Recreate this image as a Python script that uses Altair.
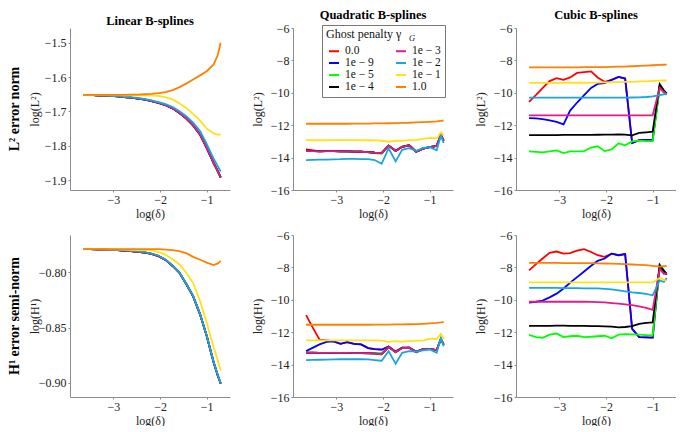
import altair as alt
import pandas as pd

# ---------------- data ----------------
x_log_delta = [-3.65, -3.50, -3.36, -3.21, -3.06, -2.91, -2.77, -2.62, -2.47, -2.32, -2.18,
               -2.03, -1.88, -1.73, -1.59, -1.44, -1.29, -1.14, -1.00, -0.85, -0.76, -0.70]

penalties = ["0.0", "1e − 9", "1e − 5", "1e − 4", "1e − 3", "1e − 2", "1e − 1", "1.0"]
colors = ["#ff0000", "#0000ff", "#00ff00", "#000000", "#e6198c", "#1aa6dc", "#ffe11a", "#ff8000"]

# Linear B-splines, L2
lin_l2_magenta = [-1.652, -1.652, -1.653, -1.654, -1.655, -1.656, -1.658, -1.660, -1.663, -1.666, -1.670,
                  -1.675, -1.682, -1.691, -1.704, -1.720, -1.741, -1.768, -1.806, -1.851, -1.875, -1.892]
lin_l2_cyan = [-1.652, -1.652, -1.653, -1.654, -1.655, -1.656, -1.657, -1.659, -1.661, -1.664, -1.668,
               -1.673, -1.679, -1.687, -1.699, -1.714, -1.733, -1.758, -1.795, -1.838, -1.860, -1.875]
lin_l2_yellow = [-1.652, -1.652, -1.652, -1.652, -1.652, -1.652, -1.653, -1.653, -1.653, -1.653, -1.654,
                 -1.655, -1.659, -1.665, -1.676, -1.690, -1.707, -1.727, -1.750, -1.764, -1.768, -1.767]
lin_l2_orange = [-1.652, -1.652, -1.652, -1.652, -1.652, -1.652, -1.652, -1.651, -1.651, -1.650, -1.649,
                 -1.647, -1.644, -1.638, -1.630, -1.619, -1.607, -1.595, -1.583, -1.563, -1.535, -1.500]

# Linear B-splines, H1
lin_h1_magenta = [-0.7788, -0.7789, -0.7790, -0.7792, -0.7795, -0.7798, -0.7802, -0.7806, -0.7812, -0.7820, -0.7832,
                  -0.7852, -0.7886, -0.7941, -0.7998, -0.8102, -0.8217, -0.8382, -0.8575, -0.8817, -0.8937, -0.9008]
lin_h1_cyan = [-0.7788, -0.7789, -0.7790, -0.7791, -0.7793, -0.7795, -0.7798, -0.7802, -0.7808, -0.7816, -0.7828,
               -0.7848, -0.7882, -0.7938, -0.7995, -0.8100, -0.8215, -0.8380, -0.8573, -0.8815, -0.8935, -0.9006]
lin_h1_yellow = [-0.7788, -0.7789, -0.7789, -0.7790, -0.7790, -0.7791, -0.7792, -0.7794, -0.7796, -0.7798, -0.7800,
                 -0.7815, -0.7840, -0.7880, -0.7925, -0.8000, -0.8096, -0.8260, -0.8454, -0.8680, -0.8800, -0.8890]
lin_h1_orange = [-0.7788, -0.7788, -0.7788, -0.7788, -0.7788, -0.7788, -0.7788, -0.7788, -0.7788, -0.7788, -0.7788,
                 -0.7789, -0.7792, -0.7797, -0.7807, -0.7825, -0.7858, -0.7885, -0.7910, -0.7932, -0.7918, -0.7895]

# Quadratic B-splines, L2
quad_l2_red = [-13.50, -13.55, -13.60, -13.60, -13.60, -13.62, -13.62, -13.63, -13.64, -13.66, -13.70,
               -13.72, -13.26, -13.58, -13.33, -13.24, -13.64, -13.45, -13.36, -13.28, -12.60, -12.95]
quad_l2_green = [-13.58, -13.60, -13.62, -13.60, -13.60, -13.62, -13.62, -13.63, -13.65, -13.68, -13.73,
                 -13.76, -13.28, -13.58, -13.33, -13.24, -13.64, -13.45, -13.36, -13.28, -12.60, -12.95]
quad_l2_black = [-13.55, -13.58, -13.61, -13.60, -13.60, -13.62, -13.62, -13.63, -13.64, -13.66, -13.70,
                 -13.72, -13.26, -13.58, -13.33, -13.24, -13.64, -13.45, -13.36, -13.28, -12.60, -12.95]
quad_l2_magenta = [-13.58, -13.60, -13.62, -13.60, -13.60, -13.62, -13.62, -13.63, -13.64, -13.66, -13.70,
                   -13.72, -13.26, -13.58, -13.33, -13.24, -13.64, -13.45, -13.36, -13.28, -12.60, -12.95]
quad_l2_cyan = [-14.15, -14.14, -14.13, -14.12, -14.11, -14.10, -14.08, -14.08, -14.09, -14.10, -14.15,
                -14.38, -13.42, -14.23, -13.52, -13.42, -13.58, -13.40, -13.36, -13.55, -12.65, -13.10]
quad_l2_yellow = [-12.92, -12.93, -12.93, -12.93, -12.92, -12.92, -12.92, -12.92, -12.93, -12.93, -12.94,
                  -12.96, -13.02, -12.95, -12.97, -12.92, -12.90, -12.85, -12.78, -12.80, -12.45, -12.62]
quad_l2_orange = [-11.91, -11.91, -11.91, -11.91, -11.91, -11.91, -11.91, -11.90, -11.90, -11.90, -11.89,
                  -11.89, -11.88, -11.87, -11.86, -11.85, -11.83, -11.81, -11.79, -11.76, -11.73, -11.71]

# Quadratic B-splines, H1
quad_h1_red = [-10.95, -11.75, -12.46, -12.50, -12.57, -12.72, -12.62, -12.72, -12.75, -12.98, -13.05,
               -13.08, -12.88, -13.20, -12.96, -12.95, -13.20, -13.05, -13.03, -13.10, -12.42, -12.77]
quad_h1_blue = [-13.17, -12.95, -12.75, -12.60, -12.57, -12.72, -12.62, -12.72, -12.75, -12.98, -13.05,
                -13.08, -12.88, -13.20, -12.96, -12.95, -13.20, -13.05, -13.03, -13.10, -12.42, -12.77]
quad_h1_green = [-13.27, -13.27, -13.28, -13.28, -13.28, -13.28, -13.28, -13.29, -13.29, -13.29, -13.28,
                 -13.30, -12.92, -13.23, -12.98, -12.96, -13.23, -13.05, -13.05, -13.10, -12.42, -12.77]
quad_h1_magenta = [-13.27, -13.27, -13.28, -13.28, -13.28, -13.28, -13.28, -13.29, -13.29, -13.30, -13.32,
                   -13.36, -12.92, -13.23, -12.98, -12.96, -13.23, -13.05, -13.05, -13.10, -12.42, -12.77]
quad_h1_cyan = [-13.72, -13.71, -13.70, -13.69, -13.68, -13.67, -13.67, -13.66, -13.67, -13.68, -13.72,
                -13.76, -13.17, -13.95, -13.27, -13.17, -13.20, -13.12, -13.07, -13.27, -12.36, -12.87]
quad_h1_yellow = [-12.50, -12.50, -12.50, -12.50, -12.50, -12.50, -12.50, -12.50, -12.50, -12.50, -12.50,
                  -12.52, -12.60, -12.55, -12.58, -12.55, -12.52, -12.52, -12.40, -12.42, -12.10, -12.40]
quad_h1_orange = [-11.54, -11.54, -11.54, -11.54, -11.54, -11.54, -11.54, -11.54, -11.54, -11.54, -11.53,
                  -11.53, -11.53, -11.52, -11.52, -11.51, -11.50, -11.48, -11.46, -11.43, -11.40, -11.37]

# Cubic B-splines, L2
cub_l2_red = [-10.56, -10.13, -9.71, -9.28, -9.10, -9.20, -9.05, -8.77, -8.72, -8.68, -9.05,
              -9.32, -9.20, -9.02, -9.12, -13.10, -12.92, -12.90, -12.90, -9.60, -9.95, -10.05]
cub_l2_blue = [-11.56, -11.58, -11.62, -11.70, -11.80, -11.95, -11.10, -10.60, -10.15, -9.70, -9.45,
               -9.40, -9.20, -9.02, -9.12, -13.10, -12.92, -12.90, -12.90, -9.60, -9.95, -10.05]
cub_l2_green = [-13.62, -13.65, -13.68, -13.62, -13.56, -13.72, -13.62, -13.62, -13.60, -13.38, -13.30,
                -13.60, -13.50, -13.12, -13.24, -13.00, -12.95, -12.98, -12.98, -9.70, -10.00, -10.05]
cub_l2_black = [-12.61, -12.61, -12.61, -12.61, -12.61, -12.60, -12.60, -12.60, -12.60, -12.60, -12.59,
                -12.58, -12.58, -12.57, -12.58, -12.63, -12.48, -12.44, -12.40, -9.47, -9.85, -10.05]
cub_l2_magenta = [-11.39, -11.39, -11.39, -11.39, -11.39, -11.39, -11.39, -11.39, -11.39, -11.39, -11.39,
                  -11.39, -11.39, -11.39, -11.39, -11.39, -11.39, -11.39, -11.39, -9.70, -9.95, -10.12]
cub_l2_cyan = [-10.30, -10.30, -10.30, -10.30, -10.30, -10.30, -10.30, -10.30, -10.30, -10.30, -10.30,
               -10.30, -10.30, -10.30, -10.30, -10.29, -10.28, -10.26, -10.22, -10.15, -10.10, -10.05]
cub_l2_yellow = [-9.39, -9.39, -9.39, -9.39, -9.39, -9.39, -9.38, -9.38, -9.38, -9.37, -9.37,
                 -9.36, -9.35, -9.34, -9.33, -9.32, -9.30, -9.29, -9.27, -9.25, -9.24, -9.23]
cub_l2_orange = [-8.43, -8.43, -8.43, -8.43, -8.43, -8.43, -8.43, -8.43, -8.42, -8.42, -8.42,
                 -8.41, -8.40, -8.39, -8.38, -8.36, -8.34, -8.32, -8.30, -8.28, -8.27, -8.26]

# Cubic B-splines, H1
cub_h1_red = [-8.18, -7.80, -7.45, -7.10, -7.02, -7.15, -7.12, -6.97, -6.87, -7.05, -7.25,
              -7.35, -7.15, -7.25, -7.18, -11.80, -12.30, -12.32, -12.33, -7.90, -8.30, -8.45]
cub_h1_blue = [-10.18, -10.12, -10.05, -9.85, -9.62, -9.30, -8.95, -8.60, -8.25, -7.90, -7.60,
               -7.45, -7.15, -7.25, -7.18, -11.80, -12.30, -12.32, -12.33, -7.90, -8.30, -8.45]
cub_h1_green = [-12.16, -12.30, -12.34, -12.15, -12.08, -12.30, -12.25, -12.22, -12.30, -12.28, -12.25,
                -12.22, -12.38, -12.15, -12.12, -12.13, -12.15, -12.18, -12.20, -7.90, -8.20, -8.40]
cub_h1_black = [-11.61, -11.61, -11.61, -11.61, -11.60, -11.60, -11.61, -11.61, -11.61, -11.62, -11.62,
                -11.64, -11.66, -11.70, -11.68, -11.62, -11.48, -11.43, -11.40, -7.85, -8.20, -8.40]
cub_h1_magenta = [-10.12, -10.12, -10.12, -10.12, -10.12, -10.12, -10.12, -10.12, -10.12, -10.13, -10.14,
                  -10.16, -10.20, -10.24, -10.28, -10.33, -10.40, -10.50, -10.62, -8.10, -8.40, -8.35]
cub_h1_cyan = [-9.27, -9.27, -9.27, -9.27, -9.27, -9.28, -9.28, -9.28, -9.29, -9.29, -9.30,
               -9.32, -9.36, -9.42, -9.48, -9.54, -9.58, -9.63, -9.72, -8.80, -8.90, -8.65]
cub_h1_yellow = [-8.93, -8.93, -8.93, -8.93, -8.93, -8.93, -8.93, -8.93, -8.93, -8.93, -8.93,
                 -8.93, -8.93, -8.93, -8.93, -8.93, -8.93, -8.93, -8.93, -8.65, -8.75, -8.85]
cub_h1_orange = [-7.72, -7.72, -7.72, -7.72, -7.72, -7.73, -7.73, -7.73, -7.74, -7.74, -7.75,
                 -7.76, -7.77, -7.78, -7.80, -7.82, -7.84, -7.86, -7.90, -7.95, -7.93, -7.92]

# series per panel, in drawing / legend order (0.0, 1e-9, 1e-5, 1e-4, 1e-3, 1e-2, 1e-1, 1.0)
lin_l2 = [lin_l2_magenta, lin_l2_magenta, lin_l2_magenta, lin_l2_magenta,
          lin_l2_magenta, lin_l2_cyan, lin_l2_yellow, lin_l2_orange]
lin_h1 = [lin_h1_magenta, lin_h1_magenta, lin_h1_magenta, lin_h1_magenta,
          lin_h1_magenta, lin_h1_cyan, lin_h1_yellow, lin_h1_orange]
quad_l2 = [quad_l2_red, quad_l2_magenta, quad_l2_green, quad_l2_black,
           quad_l2_magenta, quad_l2_cyan, quad_l2_yellow, quad_l2_orange]
quad_h1 = [quad_h1_red, quad_h1_blue, quad_h1_green, quad_h1_magenta,
           quad_h1_magenta, quad_h1_cyan, quad_h1_yellow, quad_h1_orange]
cub_l2 = [cub_l2_red, cub_l2_blue, cub_l2_green, cub_l2_black,
          cub_l2_magenta, cub_l2_cyan, cub_l2_yellow, cub_l2_orange]
cub_h1 = [cub_h1_red, cub_h1_blue, cub_h1_green, cub_h1_black,
          cub_h1_magenta, cub_h1_cyan, cub_h1_yellow, cub_h1_orange]

FONT = "Liberation Serif"
W, H = 160, 162
X_DOMAIN = [-3.93, -0.5]
Q_TICKS = [-16, -14, -12, -10, -8, -6]
LEGEND_X, LEGEND_Y = 252, -3


def to_df(series):
    rows = []
    for i, (name, ys) in enumerate(zip(penalties, series)):
        for x, y in zip(x_log_delta, ys):
            rows.append({"x": x, "y": y, "penalty": name, "k": i})
    return pd.DataFrame(rows)


color_enc = alt.Color(
    "penalty:N",
    scale=alt.Scale(domain=penalties, range=colors),
    legend=alt.Legend(
        title="Ghost penalty γ", orient="none", legendX=LEGEND_X, legendY=LEGEND_Y, columns=2,
        symbolType="stroke", symbolStrokeWidth=2, symbolSize=100,
        strokeColor="#777777", padding=4,
        labelFont=FONT, labelFontSize=11.5, labelColor="#111111",
        titleFont=FONT, titleFontSize=12, titleColor="#111111",
        titleFontWeight="normal", columnPadding=18, rowPadding=0, labelOffset=5,
        titlePadding=4, symbolOffset=2, titleLimit=200,
    ),
)


def panel(series, ydomain, yticks, ytitle, title=None, rowlabel=None, extra=None):
    lines = alt.Chart(to_df(series)).mark_line(strokeWidth=1.8, clip=True).encode(
        x=alt.X("x:Q", scale=alt.Scale(domain=X_DOMAIN, nice=False, zero=False),
                axis=alt.Axis(values=[-3, -2, -1], title="log(δ)", format="d",
                              labelFont=FONT, titleFont=FONT)),
        y=alt.Y("y:Q", scale=alt.Scale(domain=ydomain, nice=False, zero=False),
                axis=alt.Axis(values=yticks, title=ytitle, minExtent=26, maxExtent=26,
                              labelFont=FONT, titleFont=FONT)),
        color=color_enc,
        order=alt.Order("x:Q"),
    )
    layers = [lines]
    if rowlabel is not None:
        lab = alt.Chart(pd.DataFrame({"t": [rowlabel]})).mark_text(
            angle=270, font=FONT, fontSize=14, fontWeight="bold", color="black"
        ).encode(text="t:N", x=alt.value(-55), y=alt.value(H / 2))
        layers.append(lab)
    if extra is not None:
        layers.append(extra)
    ch = alt.layer(*layers).properties(width=W, height=H)
    if title is not None:
        ch = ch.properties(title=title)
    return ch


# subscript "G" of the legend title, drawn in the quadratic panel (its origin is 224 px right of the first panel's)
sub_g = alt.Chart(pd.DataFrame({"t": ["G"]})).mark_text(
    font=FONT, fontSize=8.5, fontStyle="italic", color="#111111", align="left", baseline="alphabetic"
).encode(text="t:N", x=alt.value(116), y=alt.value(LEGEND_Y + 16))

c1 = panel(lin_l2, [-1.929, -1.457], [-1.9, -1.8, -1.7, -1.6, -1.5], "log(L²)",
           title="Linear B-splines", rowlabel="L² error norm")
c2 = panel(quad_l2, [-16, -6], Q_TICKS, "log(L²)", title="Quadratic B-splines", extra=sub_g)
c3 = panel(cub_l2, [-16, -6], Q_TICKS, "log(L²)", title="Cubic B-splines")
c4 = panel(lin_h1, [-0.913, -0.766], [-0.9, -0.85, -0.8], "log(H¹)", rowlabel="H¹ error semi-norm")
c5 = panel(quad_h1, [-16, -6], Q_TICKS, "log(H¹)")
c6 = panel(cub_h1, [-16, -6], Q_TICKS, "log(H¹)")

chart = alt.concat(
    c1, c2, c3, c4, c5, c6, columns=3, align="each",
    spacing={"row": 10, "column": 21},
).properties(
    padding=0
).configure_view(stroke=None).configure_axis(
    grid=False, domainColor="#8c8c8c", tickColor="#8c8c8c", tickSize=2,
    labelFont=FONT, labelFontSize=12, labelColor="#222222",
    titleFont=FONT, titleFontSize=12, titleFontWeight="normal", titleColor="#222222",
    labelPadding=2, titlePadding=3,
).configure_title(
    font=FONT, fontSize=12.5, fontWeight="bold", color="black", offset=1, frame="group"
)

chart.save("out.html", embed_options={"renderer": "svg", "actions": False})
